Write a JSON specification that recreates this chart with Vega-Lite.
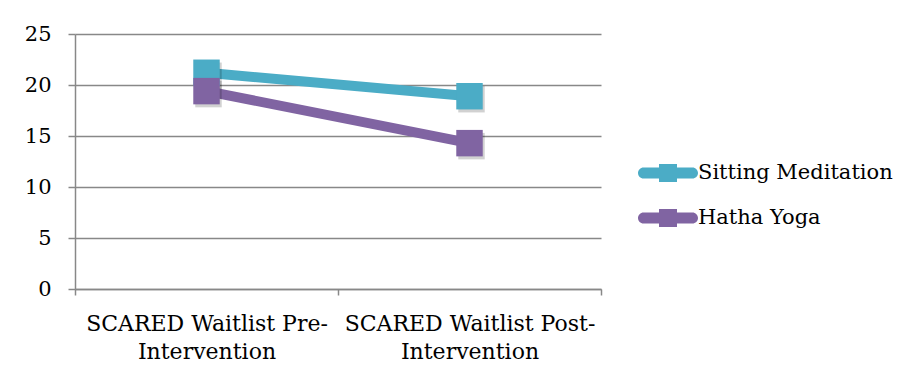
{
  "$schema": "https://vega.github.io/schema/vega-lite/v6.json",
  "width": 526,
  "height": 255,
  "autosize": "none",
  "padding": {"left": 75, "top": 34, "right": 308, "bottom": 92},
  "background": "white",
  "data": {
    "values": [
      {"phase": "SCARED Waitlist Pre-Intervention", "group": "Sitting Meditation", "score": 21.2},
      {"phase": "SCARED Waitlist Post-Intervention", "group": "Sitting Meditation", "score": 18.9},
      {"phase": "SCARED Waitlist Pre-Intervention", "group": "Hatha Yoga", "score": 19.4},
      {"phase": "SCARED Waitlist Post-Intervention", "group": "Hatha Yoga", "score": 14.3}
    ]
  },
  "encoding": {
    "x": {
      "field": "phase",
      "type": "nominal",
      "sort": ["SCARED Waitlist Pre-Intervention", "SCARED Waitlist Post-Intervention"],
      "scale": {"type": "band", "paddingInner": 0, "paddingOuter": 0},
      "axis": {
        "title": null,
        "labelAngle": 0,
        "tickBand": "extent",
        "tickSize": 6,
        "labelPadding": 18,
        "labelLineHeight": 28,
        "labelFontSize": 22,
        "labelExpr": "datum.value == 'SCARED Waitlist Pre-Intervention' ? ['SCARED Waitlist Pre-', 'Intervention'] : datum.value == 'SCARED Waitlist Post-Intervention' ? ['SCARED Waitlist Post-', 'Intervention'] : ''",
        "grid": false
      }
    },
    "y": {
      "field": "score",
      "type": "quantitative",
      "scale": {"domain": [0, 25], "nice": false, "zero": true},
      "axis": {
        "title": null,
        "values": [0, 5, 10, 15, 20, 25],
        "tickSize": 7,
        "labelPadding": 17,
        "grid": true
      }
    },
    "color": {
      "field": "group",
      "type": "nominal",
      "scale": {"domain": ["Sitting Meditation", "Hatha Yoga"], "range": ["#4BACC6", "#8064A2"]},
      "legend": {
        "title": null,
        "orient": "none",
        "legendX": 578,
        "legendY": 124,
        "padding": 0,
        "symbolType": "M-1.63,-0.37 H1.63 A0.37,0.37 0 0 1 1.63,0.37 H-1.63 A0.37,0.37 0 0 1 -1.63,-0.37 Z M-0.6,-0.6 H0.6 V0.6 H-0.6 Z",
        "symbolSize": 900,
        "symbolStrokeWidth": 0,
        "symbolOpacity": 1,
        "labelOffset": 15,
        "rowPadding": 20,
        "labelFont": "DejaVu Serif",
        "labelFontSize": 21,
        "labelColor": "#000000",
        "labelLimit": 400,
        "encode": {
          "symbols": {"update": {"fill": {"scale": "color", "field": "value"}, "strokeWidth": {"value": 0}}}
        }
      }
    }
  },
  "layer": [
    {"mark": {"type": "line", "strokeWidth": 10}},
    {
      "mark": {"type": "point", "shape": "square", "filled": true, "size": 700, "opacity": 0.18, "xOffset": 2, "yOffset": 3},
      "encoding": {"color": {"value": "#000000"}}
    },
    {"mark": {"type": "point", "shape": "square", "filled": true, "size": 700, "opacity": 1}}
  ],
  "config": {
    "view": {"stroke": null},
    "font": "DejaVu Serif",
    "axis": {
      "labelFont": "DejaVu Serif",
      "labelFontSize": 21,
      "labelColor": "#000000",
      "domainColor": "#888888",
      "domainWidth": 1.5,
      "tickColor": "#888888",
      "tickWidth": 1.5,
      "gridColor": "#888888",
      "gridWidth": 1.3,
      "labelLimit": 400
    }
  }
}
